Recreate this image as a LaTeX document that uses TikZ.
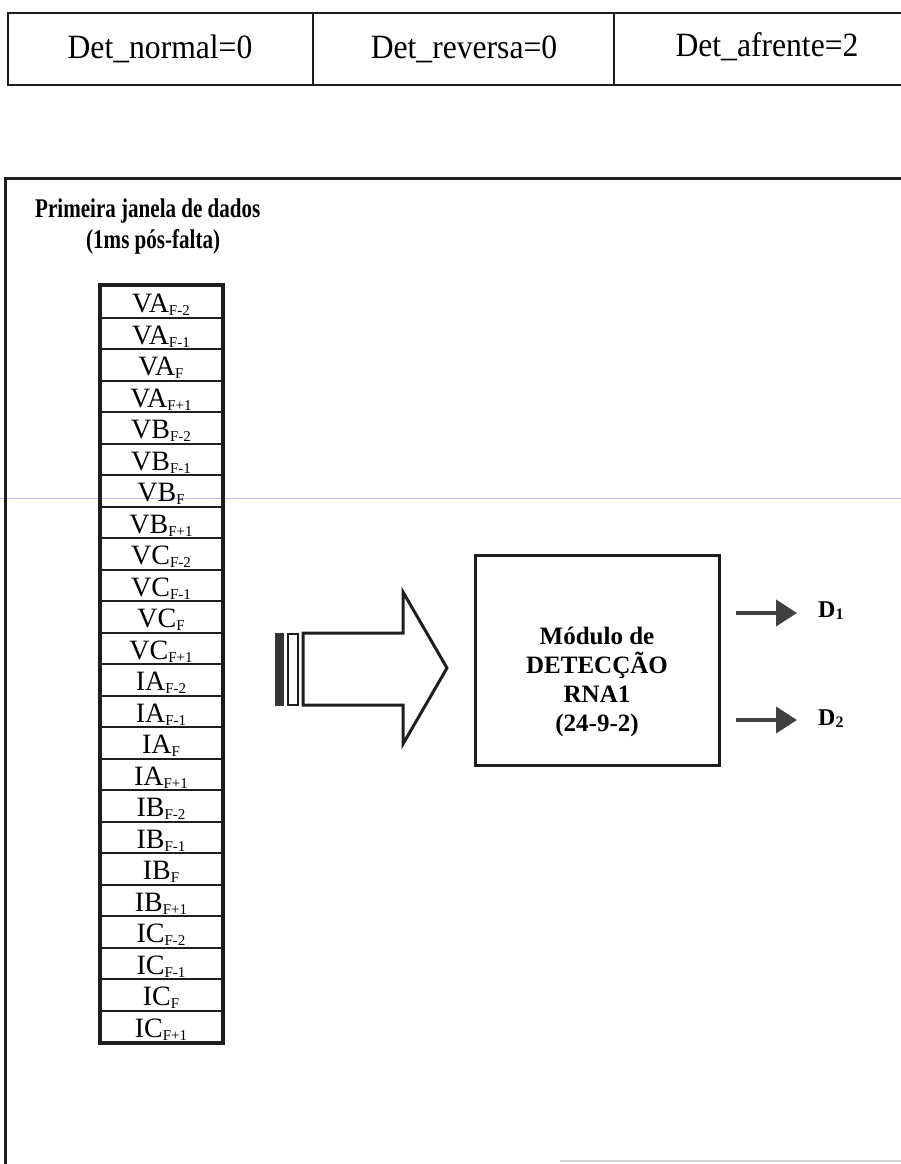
\documentclass[tikz,border=0pt]{standalone}
\usepackage{fontspec}
\setmainfont{Liberation Serif}
\newfontfamily\condserif[FakeStretch=0.78]{Liberation Serif}
\newfontfamily\tableserif[FakeStretch=0.93]{Liberation Serif}
\usetikzlibrary{arrows.meta}
\definecolor{ink}{RGB}{30,30,30}
\definecolor{scanblue}{RGB}{190,190,235}
\newcommand\sbs[1]{\raisebox{-3pt}{\fontsize{15}{15}\selectfont #1}}
\newcommand\dsbs[1]{\raisebox{-2pt}{\fontsize{16}{16}\selectfont #1}}
\begin{document}
\begin{tikzpicture}[x=1pt,y=-1pt,
  topcell/.style={font=\tableserif\fontsize{34}{34}\selectfont, inner sep=0},
  cell/.style={draw=ink, line width=2, minimum width=121, minimum height=31.5, inner sep=0,
     text height=24, text depth=2, font=\fontsize{28}{28}\selectfont},
  title/.style={anchor=west, inner sep=0, font=\condserif\bfseries\fontsize{27}{27}\selectfont},
  modbox/.style={draw=ink, line width=3, minimum width=244, minimum height=210},
  modtext/.style={align=center, inner sep=0, font=\bfseries\fontsize{25}{29}\selectfont},
  outarrow/.style={draw=ink!85, line width=4, -{Triangle[length=21,width=26]}},
  outlabel/.style={inner sep=0, anchor=west, font=\bfseries\fontsize{24}{24}\selectfont}]
\useasboundingbox (0,0) rectangle (901,1164);
% scan artefacts
\draw[scanblue, line width=1] (0,498) -- (901,498);
\draw[gray!35, line width=1.5] (560,1161) -- (901,1161);
% top table
\draw[ink, line width=2.5] (901,13) -- (8,13) -- (8,85) -- (901,85);
\draw[ink, line width=2] (313,13) -- (313,85) (614,13) -- (614,85);
\node[topcell] (tn) at (160,49) {Det\_normal=0};
\node[topcell] (tr) at (464,49) {Det\_reversa=0};
\node[topcell] (ta) at (767,47) {Det\_afrente=2};
% main frame
\draw[ink, line width=3] (901,178) -- (5,178) -- (5,1164);
\node[title] (t1) at (35,211) {Primeira janela de dados};
\node[title] (t2) at (86,242) {(1ms pós-falta)};
% column
\foreach \v [count=\i from 0] in {VA,VB,VC,IA,IB,IC}{
  \foreach \s [count=\j from 0] in {F-2,F-1,F,F+1}{
    \pgfmathtruncatemacro\k{4*\i+\j+1}
    \node[cell] (c\k) at (161,{286+31.5*(4*\i+\j)+15.75}) {\v\sbs{\s}};
  }
}
\draw[ink, line width=4] (c1.north west) rectangle (c24.south east);
% big arrow
\fill[ink!90] (275,633) rectangle (284,706);
\draw[ink, line width=2.5] (288,634) rectangle (298,705);
\draw[ink, line width=3, line join=miter] (303,633) -- (403,633) -- (403,592) -- (447,668)
   -- (403,744) -- (403,705) -- (303,705) -- cycle;
% module
\node[modbox] (mod) at (597,660) {};
\node[modtext] (mt) at ([yshift=-22]mod.center) {Módulo de\\DETECÇÃO\\RNA1\\(24-9-2)};
% outputs
\node[outlabel] (d1) at (818,611) {D\dsbs{1}};
\node[outlabel] (d2) at (818,719) {D\dsbs{2}};
\coordinate (o1) at (736,613);
\coordinate (e1) at (797,613);
\coordinate (o2) at (736,720);
\coordinate (e2) at (797,720);
\draw[outarrow] (o1) -- (e1);
\draw[outarrow] (o2) -- (e2);
\end{tikzpicture}
\end{document}
